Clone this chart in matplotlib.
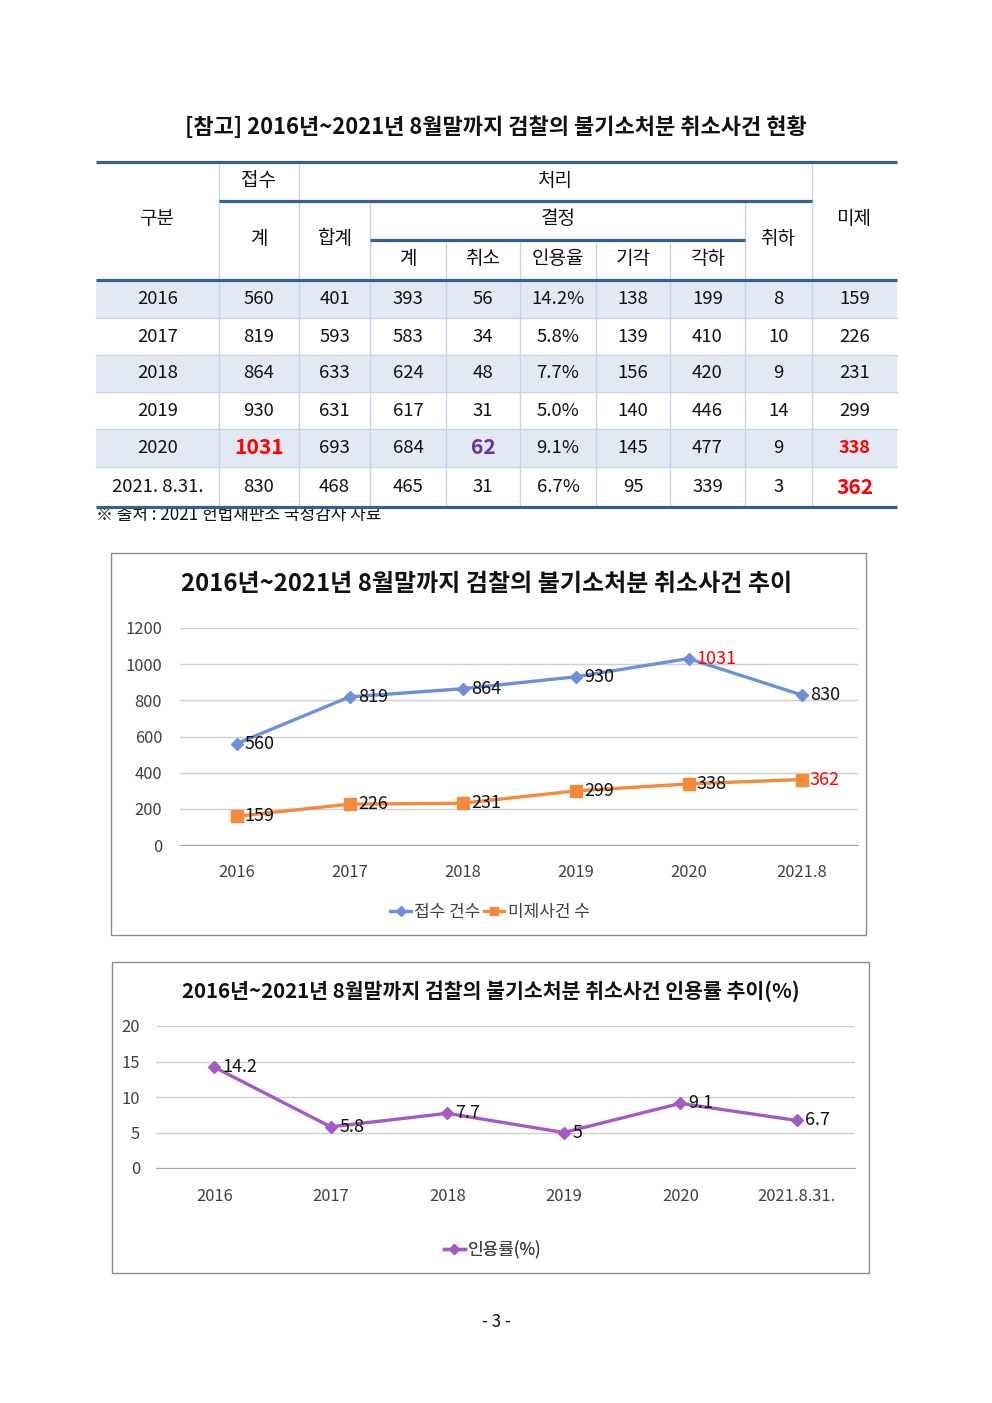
import matplotlib
matplotlib.use('Agg')
import matplotlib.pyplot as plt
from matplotlib.patches import Rectangle
from matplotlib.lines import Line2D

plt.rcParams['font.family'] = ['Noto Sans CJK KR', 'DejaVu Sans']

# ---------------- data ----------------
row_labels = ['2016', '2017', '2018', '2019', '2020', '2021. 8.31.']
received = [560, 819, 864, 930, 1031, 830]
processed_total = [401, 593, 633, 631, 693, 468]
decided_total = [393, 583, 624, 617, 684, 465]
cancelled = [56, 34, 48, 31, 62, 31]
accept_rate = [14.2, 5.8, 7.7, 5.0, 9.1, 6.7]
dismissed = [138, 139, 156, 140, 145, 95]
rejected = [199, 410, 420, 446, 477, 339]
withdrawn = [8, 10, 9, 14, 9, 3]
pending = [159, 226, 231, 299, 338, 362]

chart1_cats = ['2016', '2017', '2018', '2019', '2020', '2021.8']
chart2_cats = ['2016', '2017', '2018', '2019', '2020', '2021.8.31.']

page_title = '[참고] 2016년~2021년 8월말까지 검찰의 불기소처분 취소사건 현황'
chart1_title = '2016년~2021년 8월말까지 검찰의 불기소처분 취소사건 추이'
chart2_title = '2016년~2021년 8월말까지 검찰의 불기소처분 취소사건 인용률 추이(%)'
footnote = '※ 출처 : 2021 헌법재판소 국정감사 자료'

W, H = 992, 1403
fig = plt.figure(figsize=(W / 100, H / 100), dpi=100)
bg = fig.add_axes([0, 0, 1, 1], zorder=0)
bg.set_xlim(0, W)
bg.set_ylim(H, 0)
bg.axis('off')


def pt(px):
    return px * 0.72


TXT = '#111111'
THICK = '#376092'
THIN = '#c6d6ea'
SHADE = '#e3e9f2'

# ---------------- title ----------------
bg.text(496, 128, page_title, ha='center', va='center', fontsize=pt(22), fontweight='bold', color=TXT)

# ---------------- table ----------------
cx = [96, 219, 299, 370, 446, 520, 596, 670, 745, 812, 897]
ry = [280, 318, 355, 392, 429, 467, 507]

for i in range(6):
    if i % 2 == 0:
        bg.add_patch(Rectangle((cx[0], ry[i]), cx[-1] - cx[0], ry[i + 1] - ry[i],
                               facecolor=SHADE, edgecolor='none', zorder=1))
for i in range(1, 6):
    bg.plot([cx[0], cx[-1]], [ry[i], ry[i]], color=THIN, lw=1, zorder=2)

vlines = [(219, 162), (299, 162), (370, 201), (446, 240), (520, 240), (596, 240),
          (670, 240), (745, 201), (812, 162)]
for x, y0 in vlines:
    bg.plot([x, x], [y0, 507], color=THIN, lw=1, zorder=2)

for y, x0, x1 in [(162, 96, 897), (201, 219, 812), (240, 370, 745), (280, 96, 897), (507, 96, 897)]:
    bg.plot([x0, x1], [y, y], color=THICK, lw=2.3, zorder=4, solid_capstyle='butt')

hfs = pt(19)
headers = [
    ('구분', 157, 219), ('접수', 259, 180), ('처리', 555, 180), ('계', 259, 239),
    ('합계', 335, 239), ('결정', 558, 219), ('취하', 778, 239), ('미제', 854, 219),
    ('계', 408, 259), ('취소', 483, 259), ('인용율', 558, 259), ('기각', 633, 259),
    ('각하', 708, 259),
]
for t, x, y in headers:
    bg.text(x, y, t, ha='center', va='center', fontsize=hfs, color=TXT, zorder=5)

centers = [(cx[i] + cx[i + 1]) / 2 for i in range(10)]
special = {(4, 1): ('#ff0000', 21, 'bold'), (4, 4): ('#7030a0', 21, 'bold'),
           (4, 9): ('#ff0000', 18, 'bold'), (5, 9): ('#ff0000', 21, 'bold')}
for r in range(6):
    vals = [row_labels[r], received[r], processed_total[r], decided_total[r], cancelled[r],
            f'{accept_rate[r]:.1f}%', dismissed[r], rejected[r], withdrawn[r], pending[r]]
    yc = (ry[r] + ry[r + 1]) / 2
    for c, v in enumerate(vals):
        color, size, weight = special.get((r, c), (TXT, 18.5, 'normal'))
        bg.text(centers[c], yc, str(v), ha='center', va='center', fontsize=pt(size),
                fontweight=weight, color=color, zorder=5)

bg.text(96, 515, footnote, ha='left', va='center', fontsize=pt(17), color=TXT, zorder=3)

# ---------------- chart boxes ----------------
BOX = '#8c8c8c'
bg.add_patch(Rectangle((111, 553), 866 - 111, 935 - 553, fill=False, edgecolor=BOX, lw=1, zorder=1))
bg.add_patch(Rectangle((112, 962), 869 - 112, 1273 - 962, fill=False, edgecolor=BOX, lw=1, zorder=1))

bg.text(487, 584, chart1_title, ha='center', va='center', fontsize=pt(24), fontweight='bold', color=TXT)
bg.text(491, 991, chart2_title, ha='center', va='center', fontsize=pt(20.5), fontweight='bold', color=TXT)

BLUE = '#6f8fdc'
ORANGE = '#f58a3c'
PURPLE = '#a35ac4'
GRID = '#d0d0d0'
TICK = '#404040'


def make_axes(x0, x1, ytop, ybot):
    ax = fig.add_axes([x0 / W, (H - ybot) / H, (x1 - x0) / W, (ybot - ytop) / H], zorder=2)
    ax.patch.set_alpha(0)
    for s in ['top', 'right', 'left']:
        ax.spines[s].set_visible(False)
    ax.spines['bottom'].set_color('#a6a6a6')
    ax.tick_params(axis='both', length=0, colors=TICK, labelsize=pt(16.5))
    ax.grid(axis='y', color=GRID, lw=1)
    ax.set_axisbelow(True)
    return ax


# ---------------- chart 1 ----------------
ax1 = make_axes(180, 858, 628, 845)
xs = list(range(len(chart1_cats)))
ax1.plot(xs, received, color=BLUE, lw=2.4, marker='D', ms=6.5, clip_on=False, zorder=3)
ax1.plot(xs, pending, color=ORANGE, lw=2.4, marker='s', ms=8, clip_on=False, zorder=3)
ax1.set_xlim(-0.5, len(xs) - 0.5)
ax1.set_ylim(0, 1200)
ax1.set_yticks(range(0, 1201, 200))
ax1.set_xticks(xs, chart1_cats)
ax1.tick_params(axis='y', pad=pt(18))
ax1.tick_params(axis='x', pad=pt(19))
for i, v in enumerate(received):
    ax1.annotate(str(v), (i, v), xytext=(6, 0), textcoords='offset points', ha='left', va='center',
                 fontsize=pt(18), color='#ff0000' if i == 4 else TXT, zorder=4)
for i, v in enumerate(pending):
    ax1.annotate(str(v), (i, v), xytext=(6, 0), textcoords='offset points', ha='left', va='center',
                 fontsize=pt(18), color='#ff0000' if i == 5 else TXT, zorder=4)

h1 = [Line2D([], [], color=BLUE, lw=2.4, marker='D', ms=5),
      Line2D([], [], color=ORANGE, lw=2.4, marker='s', ms=6)]
leg1 = bg.legend(h1, ['접수 건수', '미제사건 수'], loc='center', bbox_to_anchor=(490, 912),
                 bbox_transform=bg.transData, ncol=2, frameon=False, fontsize=pt(17),
                 handlelength=1.2, handletextpad=0.2, columnspacing=0.2, labelcolor=TICK)
bg.add_artist(leg1)

# ---------------- chart 2 ----------------
ax2 = make_axes(156, 855, 1026, 1168)
xs2 = list(range(len(chart2_cats)))
ax2.plot(xs2, accept_rate, color=PURPLE, lw=2.4, marker='D', ms=6.5, clip_on=False, zorder=3)
ax2.set_xlim(-0.5, len(xs2) - 0.5)
ax2.set_ylim(0, 20)
ax2.set_yticks(range(0, 21, 5))
ax2.set_xticks(xs2, chart2_cats)
ax2.tick_params(axis='y', pad=pt(16))
ax2.tick_params(axis='x', pad=pt(20))
for i, v in enumerate(accept_rate):
    ax2.annotate(f'{v:g}', (i, v), xytext=(6, 0), textcoords='offset points', ha='left', va='center',
                 fontsize=pt(18), color=TXT, zorder=4)

h2 = [Line2D([], [], color=PURPLE, lw=2.4, marker='D', ms=5)]
leg2 = bg.legend(h2, ['인용률(%)'], loc='center', bbox_to_anchor=(493, 1250),
                 bbox_transform=bg.transData, frameon=False, fontsize=pt(17),
                 handlelength=1.2, handletextpad=0.2, labelcolor=TICK)
bg.add_artist(leg2)

bg.text(496, 1322, '- 3 -', ha='center', va='center', fontsize=pt(17), color=TXT)

fig.savefig('out.png', dpi=100)
